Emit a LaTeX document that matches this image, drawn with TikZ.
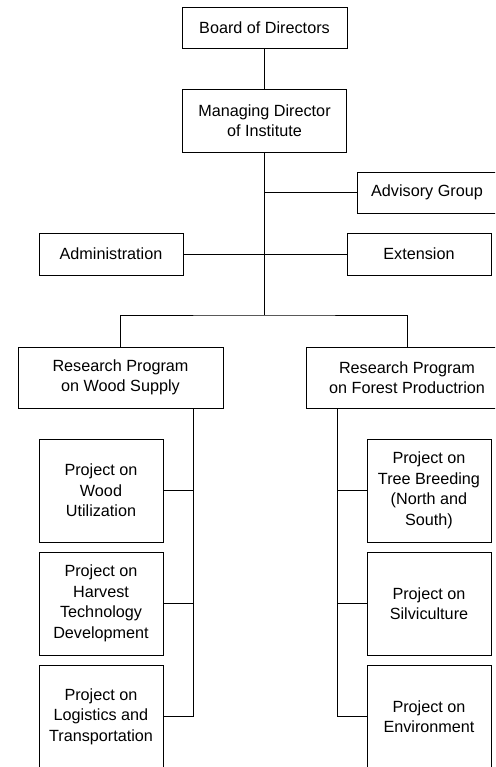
\documentclass[tikz,border=0pt]{standalone}
\usepackage{fontspec}
\setmainfont{Liberation Sans}
\begin{document}
\begin{tikzpicture}[x=1pt,y=-1pt,
  box/.style={draw, line width=0.9pt, align=center, inner sep=0pt,
    font=\fontsize{16.2}{20.5}\selectfont},
  conn/.style={line width=0.9pt}]
\useasboundingbox (0,0) rectangle (495,767);
\begin{scope}
\clip (0,0) rectangle (495,767);
\node[box, minimum width=165pt, minimum height=41pt] (board) at (264.5,27.5) {Board of Directors};
\node[box, minimum width=164pt, minimum height=63pt] (md) at (264.5,120.5) {Managing Director\\of Institute};
\node[box, minimum width=140pt, minimum height=41pt] (adv) at (427,192.5) {Advisory Group};
\node[box, minimum width=144pt, minimum height=42pt] (admin) at (111,254) {Administration};
\node[box, minimum width=144pt, minimum height=42pt] (ext) at (419,254) {Extension};
\node[box, minimum width=205pt, minimum height=61pt] (rw) at (120.5,377.5) {Research Program\\on Wood Supply};
\node[box, minimum width=202pt, minimum height=61pt] (rf) at (407,377.5) {Research Program\\on Forest Productrion};
\node[box, minimum width=124pt, minimum height=103pt] (p1) at (101,490.5) {Project on\\Wood\\Utilization};
\node[box, minimum width=124pt, minimum height=103pt] (p2) at (101,603.5) {Project on\\Harvest\\Technology\\Development};
\node[box, minimum width=124pt, minimum height=103pt] (p3) at (101,716.5) {Project on\\Logistics and\\Transportation};
\node[box, minimum width=124pt, minimum height=103pt] (q1) at (429,490.5) {Project on\\Tree Breeding\\(North and\\South)};
\node[box, minimum width=124pt, minimum height=103pt] (q2) at (429,603.5) {Project on\\Silviculture};
\node[box, minimum width=124pt, minimum height=103pt] (q3) at (429,716.5) {Project on\\Environment};
\coordinate (j) at (264.5,315);
\coordinate (wv) at (193,408);
\coordinate (fv) at (337,408);
\draw[conn] (board) -- (md);
\draw[conn] (md.south) -- (j);
\draw[conn] (md.south |- adv.west) -- (adv.west);
\draw[conn] (admin.east) -- (ext.west);
\draw[conn] (rw.north) |- (j) -| (rf.north);
\draw[conn] (wv) |- (p3.east);
\draw[conn] (wv |- p1.east) -- (p1.east);
\draw[conn] (wv |- p2.east) -- (p2.east);
\draw[conn] (fv) |- (q3.west);
\draw[conn] (fv |- q1.west) -- (q1.west);
\draw[conn] (fv |- q2.west) -- (q2.west);
\end{scope}
\end{tikzpicture}
\end{document}
